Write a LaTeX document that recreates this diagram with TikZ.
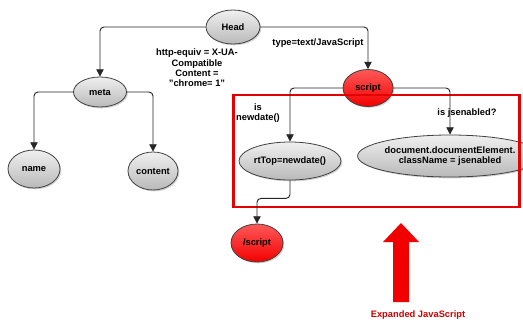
\documentclass[tikz,border=0pt]{standalone}
\usepackage{fontspec}
\setmainfont{Liberation Sans}
\usetikzlibrary{shapes.geometric,arrows.meta,shadows}
\begin{document}
\begin{tikzpicture}[x=0.75pt,y=-0.75pt,
  txt/.style={font=\bfseries\fontsize{7}{7.8}\selectfont, align=center, inner sep=0pt},
  gnode/.style={txt, ellipse, draw=black!75, line width=0.6pt, top color=gray!12, bottom color=gray!55,
     drop shadow={shadow xshift=1pt, shadow yshift=-1pt, opacity=0.35}},
  rnode/.style={gnode, top color=red!65, bottom color=red!95!black},
  conn/.style={draw=black!85, line width=0.7pt, rounded corners=3pt, -{Triangle[length=5.5pt,width=5.5pt]}},
  lbl/.style={txt}
]
\useasboundingbox (0,0) rectangle (523,321);
% nodes
\node[gnode, minimum width=40.5pt, minimum height=25.5pt] (head) at (233,27) {Head};
\node[gnode, minimum width=39.75pt, minimum height=22.5pt] (meta) at (100,92) {meta};
\node[gnode, minimum width=39pt, minimum height=28.5pt] (name) at (34,169) {name};
\node[gnode, minimum width=37.5pt, minimum height=28.5pt] (content) at (153,171) {content};
\node[rnode, minimum width=37.5pt, minimum height=27.75pt] (script) at (368,88) {script};
\node[gnode, minimum width=55.5pt, minimum height=28.5pt] (rttop) at (290,161) {rtTop=newdate()};
\node[gnode, minimum width=100.5pt, minimum height=31.5pt] (doc) at (450,156) {document.documentElement.\\className = jsenabled};
\node[rnode, minimum width=39pt, minimum height=28.5pt] (endscript) at (257,243) {/script};
% red box
\node[draw=red!90!black, line width=1.9pt, minimum width=214.5pt, minimum height=84pt, inner sep=0pt] (box) at (376.5,151) {};
% connectors
\draw[conn] (head.west) -| (meta.north);
\draw[conn] (head.east) -| (script.north);
\draw[conn] (meta.west) -| (name.north);
\draw[conn] (meta.east) -| (content.north);
\draw[conn] (script.west) -| (rttop.north);
\draw[conn] (script.east) -| (doc.north);
\draw[conn] (rttop.south) -- ++(0,18) -| (endscript.north);
% labels
\node[lbl] (l1) at (197,68) {http-equiv = X-UA-\\Compatible\\Content =\\"chrome= 1"};
\node[lbl] (l2) at (318,43) {type=text/JavaScript};
\node[lbl] (l3) at (258,113) {is\\newdate()};
\node[lbl] (l4) at (467,113) {is jsenabled?};
% big arrow
\fill[red!95!black] (393,302) -- (393,242) -- (383,242) -- (401,223) -- (419,242) -- (409,242) -- (409,302) -- cycle;
\node[lbl, text=red!80!black] (l5) at (418,315) {Expanded JavaScript};
\end{tikzpicture}
\end{document}
